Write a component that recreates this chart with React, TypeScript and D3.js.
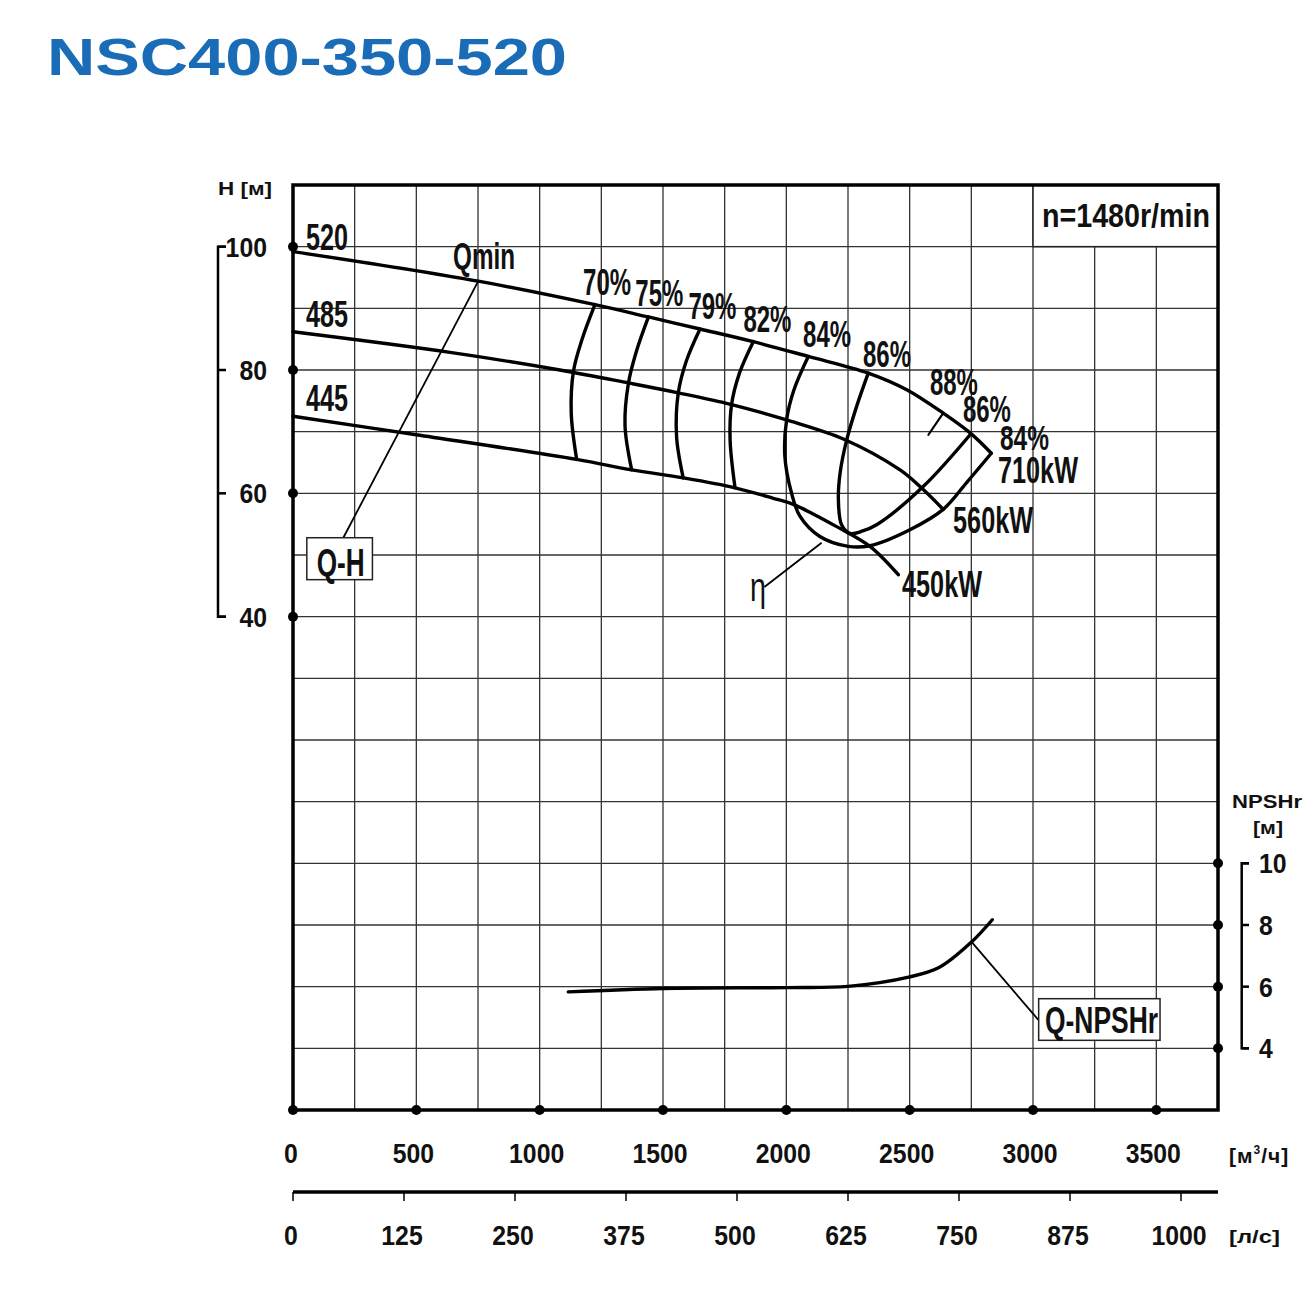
import React from "react";
import * as d3 from "d3";

type Pt = [number, number];

// Q-H curves [Q m³/h, H m] for each impeller diameter
const diameters = ["520", "485", "445"];
const motorPower = ["710kW", "560kW", "450kW"];
const qh520: Pt[] = [[0, 99.2], [751, 94.4], [1224, 90.6], [1441, 88.6], [1650, 86.65], [1866, 84.6], [2089, 82.2], [2332, 79.5], [2488, 76.8], [2636, 73.0], [2745, 69.8], [2831, 66.5]];
const qh485: Pt[] = [[0, 86.2], [630, 82.9], [1082, 80.0], [1360, 77.9], [1562, 76.3], [1778, 74.4], [2001, 71.9], [2238, 68.7], [2461, 63.8], [2542, 61.1], [2636, 57.4]];
const qh445: Pt[] = [[0, 72.5], [500, 69.5], [1150, 65.5], [1373, 63.8], [1582, 62.5], [1792, 60.9], [1947, 59.2], [2028, 58.2], [2204, 54.6], [2339, 51.4], [2454, 46.8]];

// iso-efficiency lines
const effNames = ["70%", "75%", "79%", "82%", "84%", "86%", "88%"];
const eff70: Pt[] = [[1224, 90.6], [1172, 85], [1137, 79.8], [1128, 73], [1150, 65.5]];
const eff75: Pt[] = [[1441, 88.6], [1392, 83], [1360, 77.9], [1346, 71], [1373, 63.8]];
const eff79: Pt[] = [[1650, 86.65], [1595, 81.5], [1562, 76.3], [1555, 69.2], [1582, 62.5]];
const eff82: Pt[] = [[1866, 84.6], [1810, 79.5], [1778, 74.4], [1772, 68.7], [1792, 60.9]];
const eff84: Pt[] = [[2089, 82.2], [2031, 76.8], [2001, 71.9], [1994, 66.0], [2021, 60.05], [2055, 56.3], [2136, 53.0], [2251, 51.4], [2339, 51.5], [2501, 54.1], [2636, 57.4], [2730, 61.7], [2831, 66.5]];
const eff86: Pt[] = [[2332, 79.5], [2285, 74.1], [2245, 68.7], [2218, 63.3], [2211, 59.0], [2224, 54.9], [2258, 53.5], [2310, 53.9], [2366, 54.9], [2555, 61.1], [2745, 69.5]];
const eff88: Pt[] = [[2576, 69.5], [2636, 73.0]];

// Qmin leader (on the 520 curve down to the Q-H box)
const qmin: Pt[] = [[751, 94.4], [204, 52.8]];

// NPSHr [Q m³/h, m]
const npshr: Pt[] = [[1116, 5.83], [1503, 5.94], [2004, 5.97], [2250, 6.01], [2496, 6.31], [2619, 6.62], [2751, 7.45], [2835, 8.17]];

const hTicks = [100, 80, 60, 40];
const npshTicks = [10, 8, 6, 4];
const qTicks = [0, 500, 1000, 1500, 2000, 2500, 3000, 3500];
const lsTicks = [0, 125, 250, 375, 500, 625, 750, 875, 1000];

// label anchors (left / baseline) in chart units
const diamLabelAt: Pt[] = [[53, 99.5], [53, 86.9], [53, 73.3]];
const powerLabelAt: Pt[] = [[2858, 61.7], [2676, 53.6], [2469, 43.2]];
const effLabelAt: Pt[] = [[1176, 92.2], [1388, 90.3], [1603, 88.2], [1826, 86.1], [2068, 83.8], [2311, 80.5], [2582, 76.0]];

const FONT = "'Liberation Sans', Arial, sans-serif";
const left = 293, right = 1218, top = 185, bottom = 1110;

const Txt = ({ x, y, size, w, anchor = "start", weight = "bold", fill = "#111", children }: any) => (
  <text x={x} y={y} fontSize={size} fontWeight={weight} fill={fill} textAnchor={anchor}
    textLength={w} lengthAdjust="spacingAndGlyphs">{children}</text>
);

export default function App() {
  const x = d3.scaleLinear().domain([0, 3750]).range([left, right]);
  const xs = d3.scaleLinear().domain([0, 3750 / 3.6]).range([left, right]);
  const y = d3.scaleLinear().domain([-40, 110]).range([bottom, top]);
  const yn = d3.scaleLinear().domain([2, 32]).range([bottom, top]);

  const lineH = d3.line<Pt>().x((d) => x(d[0])).y((d) => y(d[1])).curve(d3.curveCatmullRom.alpha(0.5));
  const lineN = d3.line<Pt>().x((d) => x(d[0])).y((d) => yn(d[1])).curve(d3.curveCatmullRom.alpha(0.5));

  const qhCurves = [qh520, qh485, qh445];
  const effCurves = [eff70, eff75, eff79, eff82, eff84, eff86, eff88];

  const gridX = d3.range(250, 3750, 250);
  const gridY = d3.range(-30, 110, 10);

  const digitW = 13.8;

  return (
    <svg width={1310} height={1295} style={{ position: "absolute", left: 0, top: 0, background: "#fff" }} fontFamily={FONT}>
      <rect width={1310} height={1295} fill="#fff" />
      {/* Título */}
      <Txt x={47} y={75} size={52} w={520} weight={900} fill="#1a6cb6">NSC400-350-520</Txt>

      {/* Rejilla */}
      <g stroke="#333" strokeWidth={1.3}>
        {gridX.map((q) => <line key={"gx" + q} x1={x(q)} x2={x(q)} y1={top} y2={bottom} />)}
        {gridY.map((h) => <line key={"gy" + h} x1={left} x2={right} y1={y(h)} y2={y(h)} />)}
      </g>

      {/* n box */}
      <rect x={x(3000)} y={top} width={right - x(3000)} height={y(100) - top} fill="#fff" stroke="#222" strokeWidth={1.5} />
      <Txt x={1042} y={227} size={33} w={168}>n=1480r/min</Txt>

      {/* Curvas */}
      <g fill="none" stroke="#000" strokeWidth={3.4} strokeLinejoin="round" strokeLinecap="round">
        {qhCurves.map((c, i) => <path key={"qh" + i} d={lineH(c) || ""} />)}
        {effCurves.map((c, i) => <path key={"ef" + i} d={lineH(c) || ""} strokeWidth={i === 6 ? 2.2 : 3.4} />)}
        <path d={lineN(npshr) || ""} />
      </g>

      {/* Líneas guía */}
      <g stroke="#000" strokeWidth={1.8} fill="none">
        <line x1={x(qmin[0][0])} y1={y(qmin[0][1])} x2={x(qmin[1][0])} y2={y(qmin[1][1])} />
        <line x1={x(1911)} y1={y(44.8)} x2={x(2143)} y2={y(52.0)} />
        <line x1={x(2751)} y1={yn(7.45)} x2={x(3023)} y2={yn(4.91)} />
      </g>

      {/* Cajas Q-H y Q-NPSHr */}
      <rect x={x(56)} y={y(52.8)} width={x(322) - x(56)} height={y(46) - y(52.8)} fill="#fff" stroke="#222" strokeWidth={1.5} />
      <Txt x={316.7} y={576} size={38} w={48}>Q-H</Txt>
      <rect x={x(3023)} y={yn(5.61)} width={x(3515) - x(3023)} height={yn(4.26) - yn(5.61)} fill="#fff" stroke="#222" strokeWidth={1.5} />
      <Txt x={1045} y={1033} size={37} w={113}>Q-NPSHr</Txt>

      {/* Rótulos */}
      {diameters.map((d, i) => (
        <Txt key={"d" + d} x={x(diamLabelAt[i][0])} y={y(diamLabelAt[i][1])} size={37} w={42}>{d}</Txt>
      ))}
      {motorPower.map((p, i) => (
        <Txt key={"p" + p} x={x(powerLabelAt[i][0])} y={y(powerLabelAt[i][1])} size={36} w={80}>{p}</Txt>
      ))}
      {effNames.map((e, i) => (
        <Txt key={"e" + i} x={x(effLabelAt[i][0])} y={y(effLabelAt[i][1])} size={36} w={48}>{e}</Txt>
      ))}
      <Txt x={x(2716)} y={y(71.5)} size={36} w={48}>86%</Txt>
      <Txt x={x(2866)} y={y(67.0)} size={35} w={49}>84%</Txt>
      <Txt x={x(649)} y={y(96.3)} size={37} w={62}>Qmin</Txt>
      <Txt x={x(1853)} y={y(42.6)} size={40} w={16} weight="normal">η</Txt>

      {/* Marco */}
      <rect x={left} y={top} width={right - left} height={bottom - top} fill="none" stroke="#000" strokeWidth={3.5} />

      {/* Eje H */}
      <Txt x={218} y={195} size={18} w={54}>H [м]</Txt>
      <path d={`M226,${y(100)}H218V${y(40)}H226`} fill="none" stroke="#000" strokeWidth={2.5} />
      {hTicks.map((h) => (
        <g key={"h" + h}>
          <line x1={218} x2={226} y1={y(h)} y2={y(h)} stroke="#000" strokeWidth={2.5} />
          <circle cx={left} cy={y(h)} r={5} fill="#000" />
          <Txt x={267} y={y(h) + 10} size={28} w={digitW * String(h).length} anchor="end">{h}</Txt>
        </g>
      ))}

      {/* Eje NPSHr */}
      <Txt x={1232} y={808} size={18} w={70}>NPSHr</Txt>
      <Txt x={1253} y={834} size={18} w={30}>[м]</Txt>
      <path d={`M1249,${yn(10)}H1241.7V${yn(4)}H1249`} fill="none" stroke="#000" strokeWidth={2.5} />
      {npshTicks.map((n) => (
        <g key={"n" + n}>
          <line x1={1241.7} x2={1249} y1={yn(n)} y2={yn(n)} stroke="#000" strokeWidth={2.5} />
          <circle cx={right} cy={yn(n)} r={5} fill="#000" />
          <Txt x={1259} y={yn(n) + 10} size={28} w={digitW * String(n).length}>{n}</Txt>
        </g>
      ))}

      {/* Eje Q m³/h */}
      {qTicks.map((q) => (
        <g key={"q" + q}>
          <circle cx={x(q)} cy={bottom} r={5} fill="#000" />
          <Txt x={x(q) - (q === 0 ? 2 : 3)} y={1163} size={28} w={digitW * String(q).length} anchor="middle">{q}</Txt>
        </g>
      ))}
      <text x={1229} y={1163} fontSize={21} fontWeight="bold" fill="#111" letterSpacing={1}>
        [м<tspan dy={-9} fontSize={12}>3</tspan><tspan dy={9}>/ч]</tspan>
      </text>

      {/* Eje Q l/s */}
      <line x1={left} x2={right} y1={1192} y2={1192} stroke="#000" strokeWidth={3.5} />
      {lsTicks.map((s) => (
        <g key={"s" + s}>
          <line x1={xs(s)} x2={xs(s)} y1={1192} y2={1201} stroke="#000" strokeWidth={1.5} />
          <Txt x={xs(s) - 2} y={1245} size={28} w={digitW * String(s).length} anchor="middle">{s}</Txt>
        </g>
      ))}
      <Txt x={1229} y={1243} size={19} w={51}>[л/с]</Txt>
    </svg>
  );
}
